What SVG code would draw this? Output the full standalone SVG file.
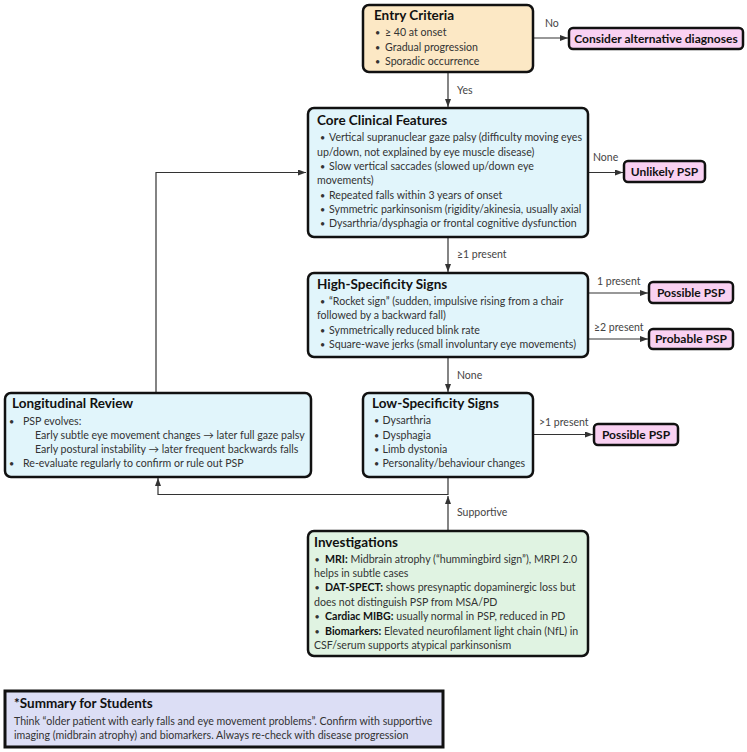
<svg xmlns="http://www.w3.org/2000/svg" width="747" height="752" viewBox="0 0 747 752">
<style>
text{font-family:Lato,"Noto Sans",sans-serif;}
.box{stroke:#111;stroke-width:2.5;}
.entry{fill:#fce8c5;}
.core{fill:#e1f5fb;}
.inv{fill:#e0f3e2;}
.out{fill:#f9d1f2;}
.sum{fill:#dcdef5;stroke:#111;stroke-width:3;}
.t{font-size:13.5px;font-weight:bold;fill:#111;}
.b{font-size:10.6px;fill:#333;}
.d{font-size:9px;fill:#333;text-anchor:middle;}
.ob{font-size:12px;font-weight:bold;fill:#111;text-anchor:middle;}
.lbl{font-size:10.5px;fill:#444;}
.e{fill:none;stroke:#333;stroke-width:1.2;}
</style>
<defs>
<marker id="ah" markerWidth="8" markerHeight="6" refX="8" refY="3" orient="auto" markerUnits="userSpaceOnUse">
<path d="M0,0 L8,3 L0,6 Z" fill="#333"/>
</marker>
</defs>
<rect width="747" height="752" fill="#fff"/>

<g id="connectors">
<path class="e" d="M533,38 H568" marker-end="url(#ah)"/>
<path class="e" d="M448,72 V107" marker-end="url(#ah)"/>
<path class="e" d="M588,172.5 H623" marker-end="url(#ah)"/>
<path class="e" d="M448,237 V272" marker-end="url(#ah)"/>
<path class="e" d="M588,293 H648" marker-end="url(#ah)"/>
<path class="e" d="M588,339 H648" marker-end="url(#ah)"/>
<path class="e" d="M448,357 V392" marker-end="url(#ah)"/>
<path class="e" d="M533,434.5 H593" marker-end="url(#ah)"/>
<path class="e" d="M156,392 V172.5 H306" marker-end="url(#ah)"/>
<path class="e" d="M448,477 V494.5 H158 V478" marker-end="url(#ah)"/>
<path class="e" d="M448,530 V496" marker-end="url(#ah)"/>
<text class="lbl" x="545" y="27">No</text>
<text class="lbl" x="457" y="94">Yes</text>
<text class="lbl" x="593" y="161">None</text>
<text class="lbl" x="457" y="258">≥1 present</text>
<text class="lbl" x="597" y="285">1 present</text>
<text class="lbl" x="594" y="331">≥2 present</text>
<text class="lbl" x="457" y="379">None</text>
<text class="lbl" x="539" y="426">&gt;1 present</text>
<text class="lbl" x="457" y="516">Supportive</text>
</g>

<g id="entry">
<rect class="box entry" x="363" y="5" width="170" height="67" rx="6"/>
<text class="t" x="374" y="20">Entry Criteria</text>
<text class="d" x="377.5" y="36">•</text><text class="b" x="385" y="36">≥ 40 at onset</text>
<text class="d" x="377.5" y="50.5">•</text><text class="b" x="385" y="50.5">Gradual progression</text>
<text class="d" x="377.5" y="65">•</text><text class="b" x="385" y="65">Sporadic occurrence</text>
</g>

<g id="alt">
<rect class="box out" x="569" y="28" width="174" height="21" rx="4"/>
<text class="ob" x="656" y="42.5">Consider alternative diagnoses</text>
</g>

<g id="core">
<rect class="box core" x="308" y="108" width="280" height="129" rx="6"/>
<text class="t" x="317" y="125">Core Clinical Features</text>
<text class="d" x="322.5" y="141">•</text><text class="b" x="329" y="141">Vertical supranuclear gaze palsy (difficulty moving eyes</text>
<text class="b" x="317" y="155.5">up/down, not explained by eye muscle disease)</text>
<text class="d" x="322.5" y="170">•</text><text class="b" x="329" y="170">Slow vertical saccades (slowed up/down eye</text>
<text class="b" x="317" y="184">movements)</text>
<text class="d" x="322.5" y="198.5">•</text><text class="b" x="329" y="198.5">Repeated falls within 3 years of onset</text>
<text class="d" x="322.5" y="213">•</text><text class="b" x="329" y="213">Symmetric parkinsonism (rigidity/akinesia, usually axial</text>
<text class="d" x="322.5" y="227">•</text><text class="b" x="329" y="227">Dysarthria/dysphagia or frontal cognitive dysfunction</text>
</g>

<g id="unlikely">
<rect class="box out" x="624" y="161" width="81" height="21" rx="4"/>
<text class="ob" x="664.5" y="175.5">Unlikely PSP</text>
</g>

<g id="high">
<rect class="box core" x="308" y="273" width="280" height="84" rx="6"/>
<text class="t" x="317" y="289">High-Specificity Signs</text>
<text class="d" x="322.5" y="305">•</text><text class="b" x="329" y="305">“Rocket sign” (sudden, impulsive rising from a chair</text>
<text class="b" x="317" y="319">followed by a backward fall)</text>
<text class="d" x="322.5" y="334">•</text><text class="b" x="329" y="334">Symmetrically reduced blink rate</text>
<text class="d" x="322.5" y="348">•</text><text class="b" x="329" y="348">Square-wave jerks (small involuntary eye movements)</text>
</g>

<g id="possible1">
<rect class="box out" x="649" y="282" width="84" height="21" rx="4"/>
<text class="ob" x="691" y="296.5">Possible PSP</text>
</g>

<g id="probable">
<rect class="box out" x="649" y="329" width="84" height="20" rx="4"/>
<text class="ob" x="691" y="343">Probable PSP</text>
</g>

<g id="low">
<rect class="box core" x="363" y="393" width="170" height="84" rx="6"/>
<text class="t" x="372" y="408">Low-Specificity Signs</text>
<text class="d" x="376.5" y="424">•</text><text class="b" x="382.5" y="424">Dysarthria</text>
<text class="d" x="376.5" y="438.5">•</text><text class="b" x="382.5" y="438.5">Dysphagia</text>
<text class="d" x="376.5" y="453">•</text><text class="b" x="382.5" y="453">Limb dystonia</text>
<text class="d" x="376.5" y="467">•</text><text class="b" x="382.5" y="467">Personality/behaviour changes</text>
</g>

<g id="possible2">
<rect class="box out" x="594" y="424" width="84" height="21" rx="4"/>
<text class="ob" x="636" y="438.5">Possible PSP</text>
</g>

<g id="longitudinal">
<rect class="box core" x="5" y="393" width="306" height="84" rx="6"/>
<text class="t" x="12" y="408">Longitudinal Review</text>
<text class="d" x="11.5" y="425">•</text><text class="b" x="23" y="425">PSP evolves:</text>
<text class="b" x="35" y="439">Early subtle eye movement changes → later full gaze palsy</text>
<text class="b" x="35" y="453">Early postural instability → later frequent backwards falls</text>
<text class="d" x="11.5" y="467">•</text><text class="b" x="23" y="467">Re-evaluate regularly to confirm or rule out PSP</text>
</g>

<g id="investigations">
<rect class="box inv" x="308" y="531" width="280" height="125" rx="6"/>
<text class="t" x="314" y="547" font-size="14px">Investigations</text>
<text class="d" x="317" y="563">•</text><text class="b" x="325" y="563"><tspan font-weight="bold" fill="#111">MRI:</tspan> Midbrain atrophy (“hummingbird sign”), MRPI 2.0</text>
<text class="b" x="314" y="577">helps in subtle cases</text>
<text class="d" x="317" y="591">•</text><text class="b" x="325" y="591"><tspan font-weight="bold" fill="#111">DAT-SPECT:</tspan> shows presynaptic dopaminergic loss but</text>
<text class="b" x="314" y="606">does not distinguish PSP from MSA/PD</text>
<text class="d" x="317" y="620">•</text><text class="b" x="325" y="620"><tspan font-weight="bold" fill="#111">Cardiac MIBG:</tspan> usually normal in PSP, reduced in PD</text>
<text class="d" x="317" y="635">•</text><text class="b" x="325" y="635"><tspan font-weight="bold" fill="#111">Biomarkers:</tspan> Elevated neurofilament light chain (NfL) in</text>
<text class="b" x="314" y="649">CSF/serum supports atypical parkinsonism</text>
</g>

<g id="summary">
<rect class="sum" x="5" y="691" width="438" height="56"/>
<text class="t" x="14" y="708" font-size="14px">*Summary for Students</text>
<text class="b" x="14" y="725" font-size="10.9px">Think “older patient with early falls and eye movement problems”. Confirm with supportive</text>
<text class="b" x="14" y="739" font-size="10.9px">imaging (midbrain atrophy) and biomarkers. Always re-check with disease progression</text>
</g>
</svg>
